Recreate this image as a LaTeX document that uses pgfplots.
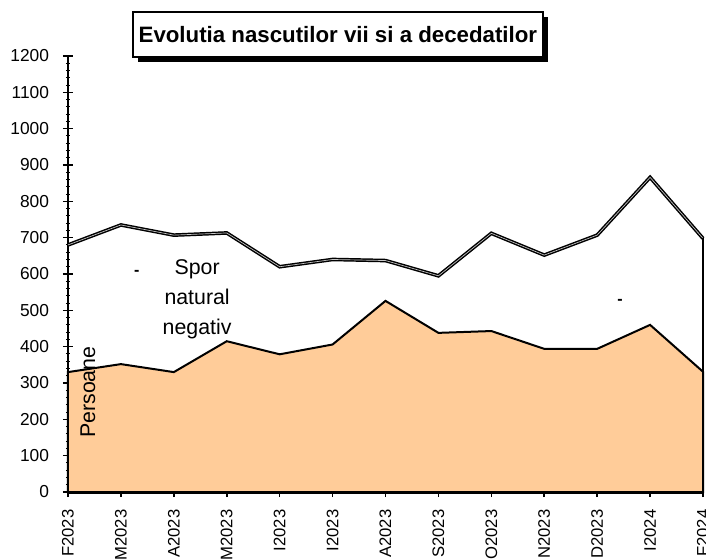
\documentclass[border=0pt]{standalone}
\usepackage{pgfplots}
\pgfplotsset{compat=1.18}
\usepackage{fontspec}
\setmainfont{Liberation Sans}
\usetikzlibrary{shadows}
\definecolor{peach}{HTML}{FFCC99}
\begin{document}
\begin{tikzpicture}
\begin{axis}[
  scale only axis, width=476.25pt, height=327pt,
  xmin=0, xmax=12, ymin=0, ymax=1200,
  axis lines*=left,
  axis line style={black, line width=2pt},
  x axis line style={line width=3pt},
  xtick={0,...,12},
  xticklabels={F2023,M2023,A2023,M2023,I2023,I2023,A2023,S2023,O2023,N2023,D2023,I2024,F2024},
  xticklabel style={rotate=90, anchor=east, xshift=-6pt, font=\fontsize{12.5}{12.5}\selectfont},
  yticklabel style={anchor=east, xshift=-7pt, font=\fontsize{13}{13}\selectfont},
  ytick={0,100,...,1200},
  minor y tick num=4,
  /pgf/number format/assume math mode=true,
  /pgf/number format/1000 sep={},
  tick align=center,
  major tick length=7.5pt,
  minor tick length=3pt,
  tick style={black, line width=1.2pt},
  minor tick style={line width=0.8pt},
  clip=false,
]
\addplot[fill=peach, draw=black, line width=1.5pt] coordinates {
(0,330) (1,352) (2,330) (3,415) (4,379) (5,406) (6,526) (7,438) (8,443) (9,394) (10,394) (11,460) (12,331)} \closedcycle;
\addplot[black, line width=1.1pt, double=gray!45, double distance=0.5pt] coordinates {
(0,680) (1,735) (2,707) (3,713) (4,620) (5,640) (6,637) (7,595) (8,712) (9,652) (10,707) (11,866) (12,698)};
\addplot[black, line width=2pt] coordinates {(12,0) (12,698)};
\coordinate (O) at (axis cs:0,0);
\node[align=center, font=\fontsize{16}{22.5}\selectfont] at (axis cs:2.44,531) {Spor\\natural\\negativ};
\node[font=\fontsize{12}{12}\selectfont\bfseries] at (axis cs:1.30,603) {-};
\node[font=\fontsize{12}{12}\selectfont\bfseries] at (axis cs:10.43,523) {-};
\node[rotate=90, font=\fontsize{16}{16}\selectfont] at (axis cs:0.378,275) {Persoane};
\node[draw=black, fill=white, line width=1pt, minimum width=307.5pt, minimum height=33.75pt,
  drop shadow={shadow xshift=3.5pt, shadow yshift=-3.5pt, opacity=1, fill=black},
  font=\fontsize{16.7}{16.7}\selectfont\bfseries] at (axis cs:5.1,1259) {Evolutia nascutilor vii si a decedatilor};
\end{axis}
\pgfresetboundingbox
\path (O) ++(-51pt,-49.5pt) rectangle ++(529.5pt,418.5pt);
\end{tikzpicture}
\end{document}
